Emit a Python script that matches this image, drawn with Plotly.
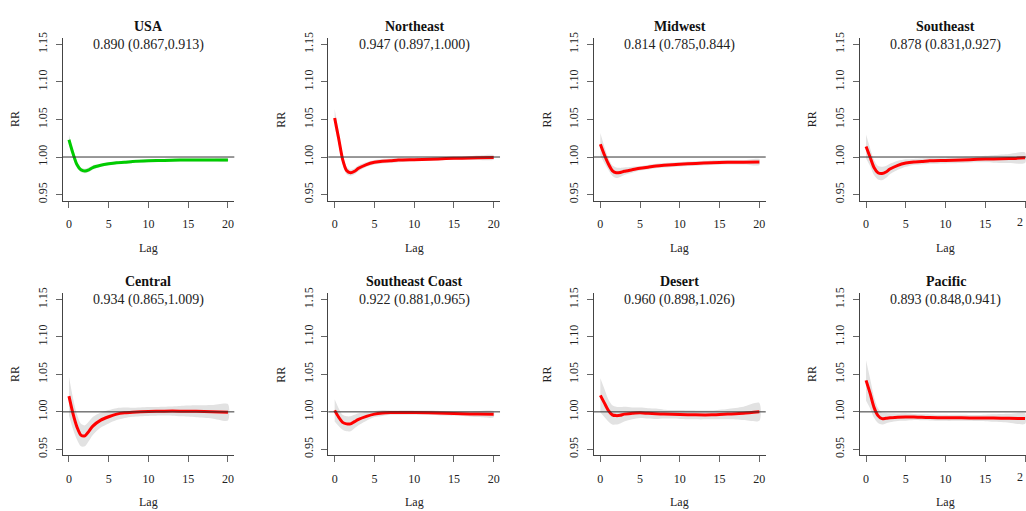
import plotly.graph_objects as go

# ---------------- data ----------------
lags = [0, 0.5, 1, 1.5, 2, 2.5, 3, 4, 5, 6, 7, 8, 10, 12, 14, 16, 18, 20]

regions = ["USA", "Northeast", "Midwest", "Southeast",
           "Central", "Southeast Coast", "Desert", "Pacific"]

summaries = ["0.890 (0.867,0.913)", "0.947 (0.897,1.000)", "0.814 (0.785,0.844)",
             "0.878 (0.831,0.927)", "0.934 (0.865,1.009)", "0.922 (0.881,0.965)",
             "0.960 (0.898,1.026)", "0.893 (0.848,0.941)"]

rr_usa = [1.023, 1.005, 0.990, 0.983, 0.9815, 0.983, 0.986, 0.989, 0.991, 0.9925,
          0.993, 0.994, 0.995, 0.9955, 0.996, 0.996, 0.996, 0.996]
rr_northeast = [1.052, 1.025, 0.997, 0.982, 0.979, 0.981, 0.985, 0.990, 0.993, 0.9945,
                0.995, 0.996, 0.9965, 0.997, 0.998, 0.9985, 0.999, 0.9995]
rr_midwest = [1.017, 1.003, 0.991, 0.982, 0.979, 0.9795, 0.981, 0.983, 0.985, 0.9865,
              0.988, 0.989, 0.9905, 0.9915, 0.9925, 0.993, 0.993, 0.9933]
rr_southeast = [1.014, 1.000, 0.986, 0.979, 0.978, 0.980, 0.984, 0.989, 0.992, 0.9935,
                0.994, 0.995, 0.9955, 0.996, 0.997, 0.9975, 0.998, 0.999]
rr_central = [1.021, 0.998, 0.980, 0.969, 0.968, 0.974, 0.981, 0.989, 0.9935, 0.997,
              0.9987, 0.9995, 1.0005, 1.001, 1.001, 1.0008, 1.0002, 0.9995]
rr_se_coast = [1.002, 0.993, 0.986, 0.984, 0.984, 0.987, 0.990, 0.994, 0.997, 0.9985,
               0.999, 0.999, 0.999, 0.9988, 0.998, 0.9975, 0.997, 0.9968]
rr_desert = [1.022, 1.012, 1.002, 0.996, 0.995, 0.9955, 0.997, 0.998, 0.9987, 0.998,
             0.9974, 0.997, 0.9965, 0.996, 0.996, 0.997, 0.998, 1.000]
rr_pacific = [1.042, 1.025, 1.006, 0.995, 0.991, 0.9915, 0.992, 0.9928, 0.993, 0.993,
              0.9927, 0.9925, 0.992, 0.992, 0.9917, 0.9917, 0.9915, 0.991]

# half-width of the confidence band
hw_usa = [0.007, 0.005, 0.004, 0.003, 0.003, 0.003, 0.003, 0.002, 0.002, 0.002,
          0.002, 0.002, 0.002, 0.002, 0.002, 0.002, 0.002, 0.002]
hw_northeast = [0.012, 0.009, 0.006, 0.005, 0.004, 0.004, 0.004, 0.003, 0.003, 0.003,
                0.003, 0.003, 0.002, 0.002, 0.002, 0.002, 0.003, 0.003]
hw_midwest = [0.015, 0.011, 0.008, 0.007, 0.007, 0.006, 0.005, 0.004, 0.003, 0.003,
              0.003, 0.003, 0.003, 0.003, 0.003, 0.003, 0.003, 0.004]
hw_southeast = [0.016, 0.012, 0.010, 0.009, 0.009, 0.008, 0.007, 0.006, 0.005, 0.004,
                0.004, 0.004, 0.004, 0.004, 0.004, 0.005, 0.006, 0.007]
hw_central = [0.026, 0.021, 0.017, 0.015, 0.014, 0.013, 0.012, 0.010, 0.009, 0.008,
              0.007, 0.006, 0.006, 0.006, 0.007, 0.008, 0.009, 0.011]
hw_se_coast = [0.015, 0.012, 0.010, 0.010, 0.010, 0.009, 0.008, 0.006, 0.004, 0.004,
               0.003, 0.003, 0.003, 0.003, 0.003, 0.003, 0.004, 0.004]
hw_desert = [0.023, 0.019, 0.015, 0.013, 0.012, 0.011, 0.010, 0.008, 0.007, 0.007,
             0.007, 0.006, 0.006, 0.006, 0.006, 0.007, 0.009, 0.012]
hw_pacific = [0.027, 0.020, 0.014, 0.010, 0.008, 0.007, 0.006, 0.005, 0.005, 0.004,
              0.004, 0.004, 0.004, 0.004, 0.004, 0.005, 0.006, 0.007]

rr_all = [rr_usa, rr_northeast, rr_midwest, rr_southeast,
          rr_central, rr_se_coast, rr_desert, rr_pacific]
hw_all = [hw_usa, hw_northeast, hw_midwest, hw_southeast,
          hw_central, hw_se_coast, hw_desert, hw_pacific]
line_colors = ["#00cc00"] + ["#ff0000"] * 7

x_ticks = [0, 5, 10, 15, 20]
y_ticks = [0.95, 1.00, 1.05, 1.10, 1.15]
y_ticktext = ["0.95", "1.00", "1.05", "1.10", "1.15"]

# ---------------- layout geometry ----------------
W, H = 1026, 511
FONT = "Liberation Serif"
px_per_lag = 7.95
col_left = [62.6, 328.3, 594.0, 859.7]
plot_w = 21.6 * px_per_lag
row_top = [32.9, 292.6]
row_bot = [198.1, 457.4]
y_range = [0.942, 1.158]

fig = go.Figure()
annotations = []
shapes = []
layout_axes = {}

for i, name in enumerate(regions):
    r, c = divmod(i, 4)
    n = i + 1
    xs = "" if n == 1 else str(n)
    left = col_left[c]
    right = min(left + plot_w, W)
    xr = [-0.8, -0.8 + (right - left) / px_per_lag]
    top, bot = row_top[r], row_bot[r]

    upper = [v + h for v, h in zip(rr_all[i], hw_all[i])]
    lower = [v - h for v, h in zip(rr_all[i], hw_all[i])]

    fig.add_trace(go.Scatter(
        x=lags + lags[::-1], y=upper + lower[::-1], fill="toself",
        fillcolor="#e2e2e2", line=dict(width=0, shape="spline", smoothing=0.7),
        mode="lines", hoverinfo="skip", showlegend=False,
        xaxis="x" + xs, yaxis="y" + xs))
    fig.add_trace(go.Scatter(
        x=lags, y=rr_all[i], mode="lines",
        line=dict(color=line_colors[i], width=3, shape="spline", smoothing=0.7),
        showlegend=False, xaxis="x" + xs, yaxis="y" + xs))

    axis_common = dict(showgrid=False, zeroline=False, showline=True,
                       linecolor="#444", linewidth=1, ticks="outside",
                       ticklen=6, tickcolor="#666", tickwidth=1,
                       tickfont=dict(family=FONT, size=12, color="#222"))
    layout_axes["xaxis" + xs] = dict(
        axis_common, domain=[left / W, right / W], range=xr,
        tickvals=x_ticks, anchor="y" + xs, ticklabelstandoff=6)
    layout_axes["yaxis" + xs] = dict(
        axis_common, domain=[1 - bot / H, 1 - top / H], range=y_range,
        tickvals=y_ticks, ticktext=y_ticktext, tickangle=-90,
        anchor="x" + xs, ticklabelstandoff=4)

    shapes.append(dict(type="line", xref="x" + xs + " domain", x0=0, x1=1,
                       yref="y" + xs, y0=1, y1=1, layer="above",
                       line=dict(color="#333", width=1)))

    cx = (left + left + plot_w) / 2 / W
    annotations.append(dict(text="<b>" + name + "</b>", xref="paper", yref="paper",
                            x=cx, y=1 - (top - 12.5) / H, showarrow=False,
                            xanchor="center", yanchor="middle",
                            font=dict(family=FONT, size=14, color="#111")))
    annotations.append(dict(text=summaries[i], xref="paper", yref="paper",
                            x=cx, y=1 - (top + 7) / H, showarrow=False,
                            xanchor="center", yanchor="middle",
                            font=dict(family=FONT, size=14, color="#222")))
    annotations.append(dict(text="Lag", xref="paper", yref="paper",
                            x=cx, y=1 - (bot + 48) / H, showarrow=False,
                            xanchor="center", yanchor="middle",
                            font=dict(family=FONT, size=12, color="#222")))
    annotations.append(dict(text="RR", xref="paper", yref="paper",
                            x=(left - 47) / W, y=1 - ((top + bot) / 2) / H,
                            showarrow=False, textangle=-90,
                            xanchor="center", yanchor="middle",
                            font=dict(family=FONT, size=12, color="#222")))
    if right < left + plot_w:
        # the "20" label of the cut-off right column: only its left half shows
        annotations.append(dict(text="2", xref="x" + xs, yref="paper",
                                x=x_ticks[-1], y=1 - (bot + 22) / H,
                                showarrow=False, xanchor="right",
                                yanchor="middle",
                                font=dict(family=FONT, size=12, color="#222")))

fig.update_layout(
    width=W, height=H, margin=dict(l=0, r=0, t=0, b=0),
    paper_bgcolor="white", plot_bgcolor="white",
    annotations=annotations, shapes=shapes, **layout_axes)

fig.write_html(
    "out.html", config={"displayModeBar": False},
    post_script="document.body.style.margin='0';"
                "document.body.style.overflow='hidden';")
